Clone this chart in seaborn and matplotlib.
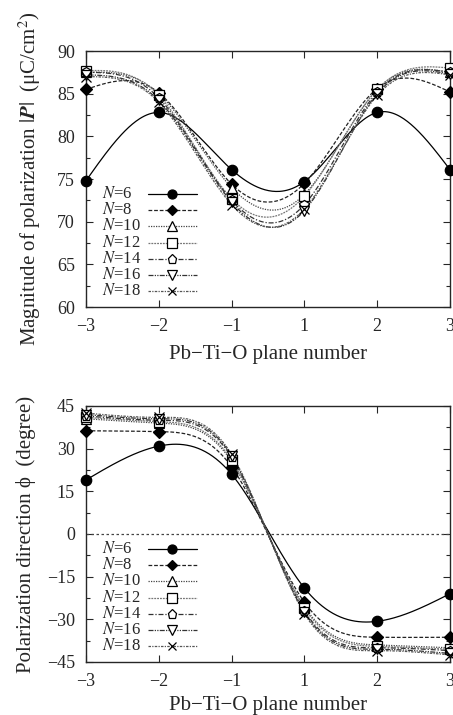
import numpy as np
import pandas as pd
import seaborn as sns
import matplotlib.pyplot as plt
from matplotlib.ticker import MultipleLocator

# plane labels (equally spaced positions on the axis)
planes = ["\u22123", "\u22122", "\u22121", "1", "2", "3"]
sizes = ["6", "8", "10", "12", "14", "16", "18"]

# |P| in uC/cm^2
mag_n6 = [74.8, 82.8, 76.1, 74.7, 82.8, 76.1]
mag_n8 = [85.5, 85.1, 74.4, 74.5, 85.6, 85.2]
mag_n10 = [87.5, 85.0, 74.0, 73.2, 85.5, 87.5]
mag_n12 = [87.7, 84.8, 72.7, 73.0, 85.5, 88.0]
mag_n14 = [87.5, 84.5, 72.5, 72.0, 85.2, 87.5]
mag_n16 = [87.2, 84.2, 72.3, 71.3, 85.0, 87.3]
mag_n18 = [87.0, 84.0, 72.0, 71.5, 84.8, 87.2]

# polarization direction phi in degree
phi_n6 = [19.0, 30.9, 21.0, -19.0, -30.7, -21.0]
phi_n8 = [36.3, 36.0, 23.6, -24.0, -36.3, -36.3]
phi_n10 = [40.5, 39.0, 25.5, -25.5, -39.0, -40.0]
phi_n12 = [41.0, 39.5, 26.0, -26.0, -39.5, -40.5]
phi_n14 = [41.5, 40.0, 27.0, -27.0, -40.0, -41.0]
phi_n16 = [42.0, 40.5, 27.5, -27.5, -40.5, -42.0]
phi_n18 = [42.5, 41.0, 28.0, -28.0, -41.0, -42.5]

mags = [mag_n6, mag_n8, mag_n10, mag_n12, mag_n14, mag_n16, mag_n18]
phis = [phi_n6, phi_n8, phi_n10, phi_n12, phi_n14, phi_n16, phi_n18]

markers = ["o", "D", "^", "s", "p", "v", "x"]
filled = [True, True, False, False, False, False, False]
msizes = [7.5, 6, 7.5, 7.5, 7.5, 7.5, 7]
lstyles = ["-", (0, (3, 1.5)), (0, (1, 1)), (0, (1.5, 0.8)),
           (0, (4, 1.5, 1, 1.5)), (0, (4, 1, 1, 1, 1, 1)), (0, (2, 1, 1, 1))]
lcolors = ["black", "#222222", "#444444", "#777777", "#333333", "#333333", "#555555"]


def natural_spline(xp, yp, xs):
    # natural cubic spline (like gnuplot's smooth csplines)
    xp = np.asarray(xp, float)
    yp = np.asarray(yp, float)
    n = len(xp)
    h = np.diff(xp)
    A = np.zeros((n, n))
    b = np.zeros(n)
    A[0, 0] = A[-1, -1] = 1
    for i in range(1, n - 1):
        A[i, i - 1] = h[i - 1]
        A[i, i] = 2 * (h[i - 1] + h[i])
        A[i, i + 1] = h[i]
        b[i] = 6 * ((yp[i + 1] - yp[i]) / h[i] - (yp[i] - yp[i - 1]) / h[i - 1])
    M = np.linalg.solve(A, b)
    idx = np.clip(np.searchsorted(xp, xs) - 1, 0, n - 2)
    x0, x1 = xp[idx], xp[idx + 1]
    hh = x1 - x0
    t0, t1 = x1 - xs, xs - x0
    return (M[idx] * t0 ** 3 / (6 * hh) + M[idx + 1] * t1 ** 3 / (6 * hh)
            + (yp[idx] / hh - M[idx] * hh / 6) * t0
            + (yp[idx + 1] / hh - M[idx + 1] * hh / 6) * t1)


sns.set_style("ticks")
plt.rcParams["font.family"] = ["Liberation Serif", "DejaVu Serif"]
plt.rcParams["mathtext.fontset"] = "stix"
plt.rcParams["font.size"] = 13

fig = plt.figure(figsize=(4.53, 7.15), dpi=100)
ax1 = fig.add_axes([86 / 453, 1 - 307 / 715, 364 / 453, 256 / 715])
ax2 = fig.add_axes([86 / 453, 1 - 662 / 715, 364 / 453, 256 / 715])

pos = np.arange(len(planes))
fine = np.linspace(0, len(planes) - 1, 300)


def draw(ax, series, xpad):
    for i, vals in enumerate(series):
        df = pd.DataFrame({"x": fine, "y": natural_spline(pos, vals, fine)})
        sns.lineplot(data=df, x="x", y="y", ax=ax, color=lcolors[i],
                     linestyle=lstyles[i], lw=0.9, zorder=2)
        ax.plot(pos, vals, ls="none", marker=markers[i], ms=msizes[i],
                mfc="black" if filled[i] else "white", mec="black",
                mew=0.9, zorder=3 + i, clip_on=False)

        # key entry (gnuplot style: label, then line sample with marker)
        ky = 1 - (143 + 16.2 * i) / 256
        ax.text(0.044, ky, "$N$=" + sizes[i], transform=ax.transAxes,
                fontsize=12, ha="left", va="center")
        ax.plot([0.170, 0.305], [ky, ky], transform=ax.transAxes,
                color=lcolors[i], ls=lstyles[i], lw=0.9)
        ax.plot([0.2375], [ky], transform=ax.transAxes, ls="none",
                marker=markers[i], ms=msizes[i] - 1,
                mfc="black" if filled[i] else "white", mec="black", mew=0.9)

    ax.set_xlim(0, len(planes) - 1)
    ax.set_xticks(pos)
    ax.set_xticklabels(planes)
    ax.set_xlabel("Pb\u2212Ti\u2212O plane number", fontsize=15, labelpad=xpad)
    ax.tick_params(direction="in", top=True, right=True, which="both",
                   labelsize=13, width=0.8, pad=8)
    ax.tick_params(which="major", length=5)
    ax.tick_params(which="minor", length=3)
    for sp in ax.spines.values():
        sp.set_linewidth(1.0)


draw(ax1, mags, 7)
ax1.set_ylim(60, 90)
ax1.yaxis.set_major_locator(MultipleLocator(5))
ax1.yaxis.set_minor_locator(MultipleLocator(2.5))
ax1.set_ylabel("Magnitude of polarization $|\\mathbfit{P}|$  (\u03bcC/cm$^2$)",
               fontsize=15, labelpad=10)

draw(ax2, phis, 4)
ax2.axhline(0, color="#444444", lw=0.9, ls=(0, (2, 2)), zorder=1)
ax2.set_ylim(-45, 45)
ax2.yaxis.set_major_locator(MultipleLocator(15))
ax2.yaxis.set_minor_locator(MultipleLocator(7.5))
ax2.set_ylabel("Polarization direction \u03d5  (degree)", fontsize=15, labelpad=8)

fig.savefig("out.png", dpi=100)
